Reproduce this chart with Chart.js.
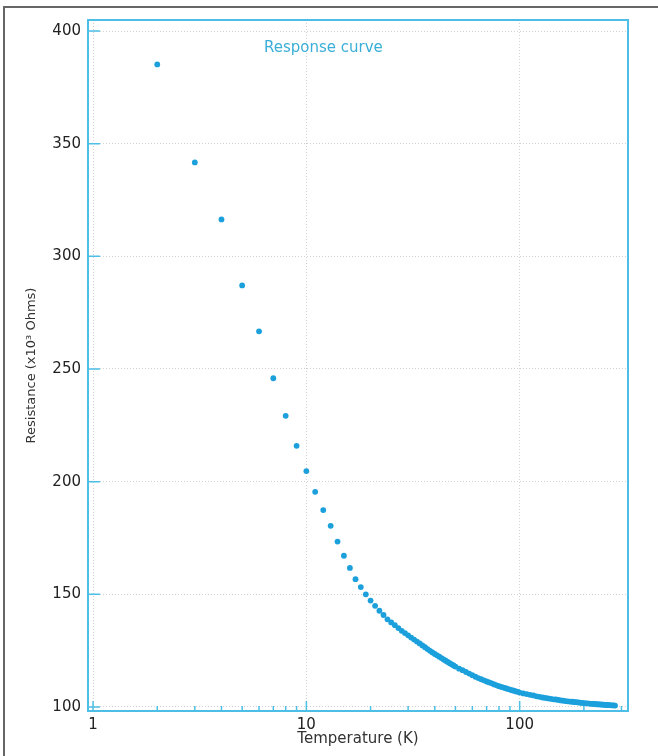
<!DOCTYPE html>
<html>
<head>
<meta charset="utf-8">
<title>Response curve</title>
<script src="https://cdn.jsdelivr.net/npm/chart.js@4.4.1/dist/chart.umd.min.js"></script>
<style>
  html, body { margin: 0; padding: 0; background: #fff; }
  canvas { display: block; }
</style>
</head>
<body>
<canvas id="responseChart" width="658" height="756"></canvas>
<script>
// temperature (K) and resistance (x10^3 Ohms)
const temps = [2,3,4,5,6,7,8,9,10,11,
    12,13,14,15,16,17,18,19,20,21,
    22,23,24,25,26,27,28,29,30,31,
    32,33,34,35,36,37,38,39,40,41,
    42,43,44,45,46,47,48,49,50,52,
    54,56,58,60,62,64,66,68,70,72,
    74,76,78,80,82,84,86,88,90,92,
    94,96,98,100,104,108,112,116,120,124,
    128,132,136,140,144,148,152,156,160,164,
    168,172,176,180,184,188,192,196,200,204,
    208,212,216,220,224,228,232,236,240,244,
    248,252,256,260,264,268,272,276,280];
const resistance = [385.2,341.7,316.4,287.1,266.7,245.9,229.2,215.9,204.7,195.5,
    187.4,180.4,173.4,167.1,161.7,156.7,153.2,150.0,147.2,144.9,
    142.7,140.8,138.9,137.5,136.3,135.0,133.8,132.8,131.8,130.8,
    129.9,129.0,128.2,127.3,126.5,125.7,124.9,124.2,123.5,122.9,
    122.3,121.7,121.1,120.5,120.0,119.4,118.9,118.4,117.9,117.0,
    116.3,115.5,114.8,114.1,113.4,112.8,112.3,111.8,111.3,110.9,
    110.5,110.0,109.6,109.2,108.9,108.6,108.3,108.0,107.7,107.4,
    107.2,106.9,106.7,106.4,106.0,105.7,105.4,105.1,104.7,104.5,
    104.2,104.0,103.8,103.6,103.4,103.3,103.1,102.9,102.8,102.6,
    102.5,102.4,102.3,102.2,102.1,102.0,101.9,101.8,101.7,101.6,
    101.6,101.5,101.4,101.4,101.3,101.2,101.2,101.1,101.1,101.0,
    101.0,100.9,100.9,100.8,100.8,100.7,100.7,100.7,100.6];

const xTicks = [1,2,3,4,5,6,7,8,9,10,20,30,40,50,60,70,80,90,100,200,300];
const xMajor = [1, 10, 100];
const yTicks = [100,150,200,250,300,350,400];

const blue = '#4dbfe6';
const dotColor = '#1ba0dc';
const gridColor = '#d2d2d2';
const FONT = '"DejaVu Sans", Arial, sans-serif';

const points = temps.map((t, i) => ({ x: t, y: resistance[i] }));

// white page, grey frame, plot box, inside tick marks, caption
const framePlugin = {
    id: 'frame',
    beforeDraw(chart) {
        const c = chart.ctx;
        c.save();
        c.fillStyle = '#fff';
        c.fillRect(0, 0, chart.width, chart.height);
        c.strokeStyle = '#666';
        c.lineWidth = 2;
        c.beginPath();
        c.moveTo(4, chart.height);
        c.lineTo(4, 7);
        c.lineTo(chart.width, 7);
        c.stroke();
        c.restore();
    },
    afterDraw(chart) {
        const c = chart.ctx;
        const a = chart.chartArea;
        const xs = chart.scales.x;
        const ys = chart.scales.y;
        c.save();
        c.strokeStyle = blue;
        c.lineWidth = 1.5;
        c.beginPath();
        xTicks.forEach(v => {
            const px = xs.getPixelForValue(v);
            const len = xMajor.includes(v) ? 10 : 5;
            c.moveTo(px, a.bottom);
            c.lineTo(px, a.bottom - len);
        });
        yTicks.forEach(v => {
            const py = ys.getPixelForValue(v);
            c.moveTo(a.left, py);
            c.lineTo(a.left + 12, py);
        });
        c.stroke();
        c.lineWidth = 2;
        c.strokeRect(a.left, a.top, a.right - a.left, a.bottom - a.top);

        c.fillStyle = '#3aaed8';
        c.font = '15px ' + FONT;
        c.textBaseline = 'middle';
        c.fillText('Response curve', 264, 48);
        c.restore();
    }
};

const ctx = document.getElementById('responseChart').getContext('2d');
const responseChart = new Chart(ctx, {
    type: 'scatter',
    data: {
        datasets: [{
            label: 'Response curve',
            data: points,
            backgroundColor: dotColor,
            borderWidth: 0,
            pointRadius: 2.9,
            pointHoverRadius: 2.9
        }]
    },
    options: {
        responsive: false,
        animation: false,
        devicePixelRatio: 1,
        layout: { padding: { top: 20, right: 30, left: 0, bottom: 0 } },
        plugins: {
            legend: { display: false },
            title: { display: false },
            tooltip: { enabled: false }
        },
        scales: {
            x: {
                type: 'logarithmic',
                min: 0.947,
                max: 322,
                afterBuildTicks: s => { s.ticks = xTicks.map(v => ({ value: v })); },
                afterFit: s => { s.height = 45; },
                ticks: {
                    autoSkip: false,
                    maxRotation: 0,
                    padding: 5,
                    color: '#222',
                    font: { family: FONT, size: 15 },
                    callback: v => xMajor.includes(v) ? String(v) : ''
                },
                grid: {
                    drawTicks: false,
                    lineWidth: 1,
                    color: c => (c.tick && xMajor.includes(c.tick.value)) ? gridColor : 'rgba(0,0,0,0)'
                },
                border: { display: false, dash: [1, 2] },
                title: {
                    display: true,
                    text: 'Temperature (K)',
                    color: '#333',
                    font: { family: FONT, size: 15 },
                    padding: { top: 0, bottom: 8 }
                }
            },
            y: {
                type: 'linear',
                min: 98.2,
                max: 404.9,
                afterBuildTicks: s => { s.ticks = yTicks.map(v => ({ value: v })); },
                afterFit: s => { s.width = 88; },
                ticks: {
                    padding: 7,
                    color: '#222',
                    font: { family: FONT, size: 15 }
                },
                grid: {
                    drawTicks: false,
                    lineWidth: 1,
                    color: gridColor
                },
                border: { display: false, dash: [1, 2] },
                title: {
                    display: true,
                    text: 'Resistance (x10³ Ohms)',
                    color: '#333',
                    font: { family: FONT, size: 13 },
                    padding: { top: 24, bottom: 0 }
                }
            }
        }
    },
    plugins: [framePlugin]
});
</script>
</body>
</html>
